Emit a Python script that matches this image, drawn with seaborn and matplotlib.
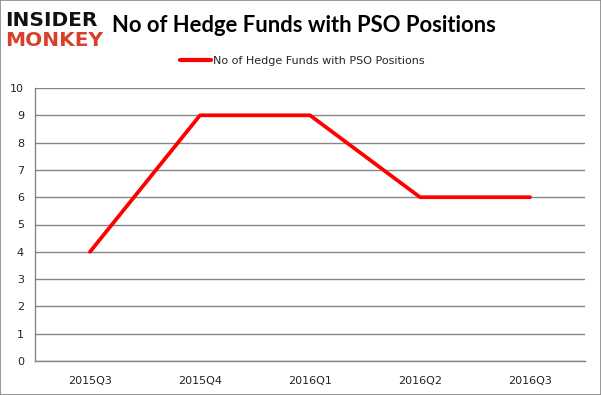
import numpy as np
import pandas as pd
import matplotlib
matplotlib.use("Agg")
import matplotlib.pyplot as plt
import seaborn as sns
from matplotlib.patches import Rectangle

# Data
quarters = ["2015Q3", "2015Q4", "2016Q1", "2016Q2", "2016Q3"]
fund_counts = [4, 9, 9, 6, 6]
series_name = "No of Hedge Funds with PSO Positions"
title_text = "No of Hedge Funds with PSO Positions"

df = pd.DataFrame({"quarter": quarters, "funds": fund_counts})

sns.set_style("white")
plt.rcParams['font.family'] = ['DejaVu Sans']

fig = plt.figure(figsize=(6.01, 3.95), dpi=100)
ax = fig.add_axes([35 / 601, 34 / 395, 550 / 601, 273 / 395])

sns.lineplot(data=df, x="quarter", y="funds", ax=ax, color="#ff0000",
             linewidth=2.7, sort=False, label=series_name, legend=False)

ax.set_xlim(-0.5, len(quarters) - 0.5)
ax.set_ylim(0, 10)
ax.set_yticks(range(0, 11))
ax.set_xlabel("")
ax.set_ylabel("")

# gridlines
ax.grid(axis="y", color="#868686", linewidth=1)
ax.grid(axis="x", visible=False)
ax.set_axisbelow(True)

for side in ["top", "right"]:
    ax.spines[side].set_visible(False)
for side in ["left", "bottom"]:
    ax.spines[side].set_color("#868686")
    ax.spines[side].set_linewidth(1)

ax.tick_params(axis="y", length=4, color="#868686", labelsize=8, pad=4, labelcolor="#222222")
ax.tick_params(axis="x", which="major", length=0, labelsize=8, pad=11, labelcolor="#222222")
ax.set_xticks(np.arange(-0.5, len(quarters), 1), minor=True)
ax.tick_params(axis="x", which="minor", length=4, color="#868686")

# legend
leg = fig.legend(loc="center", bbox_to_anchor=(302 / 601, 1 - 61 / 395), frameon=False,
                 fontsize=8, handlelength=2.8, handletextpad=0.15)
for line in leg.get_lines():
    line.set_linewidth(3)

# title
fig.text(304 / 601, 1 - 26 / 395, title_text, ha="center", va="center",
         fontsize=15.8, fontweight="bold", color="black", family=["Lato", "DejaVu Sans"])

# logo
fig.text(5 / 601, 1 - 20 / 395, "INSIDER", ha="left", va="center", fontsize=14.5,
         fontweight="heavy", color="#111111", family=["DejaVu Sans"])
fig.text(5 / 601, 1 - 40 / 395, "MONKEY", ha="left", va="center", fontsize=14.5,
         fontweight="heavy", color="#d9402b", family=["DejaVu Sans"])

# outer border
fig.patches.append(Rectangle((0.0008, 0.0012), 0.9984, 0.9976, transform=fig.transFigure,
                             fill=False, edgecolor="#868686", linewidth=1.2))

fig.savefig("out.png", dpi=100)
